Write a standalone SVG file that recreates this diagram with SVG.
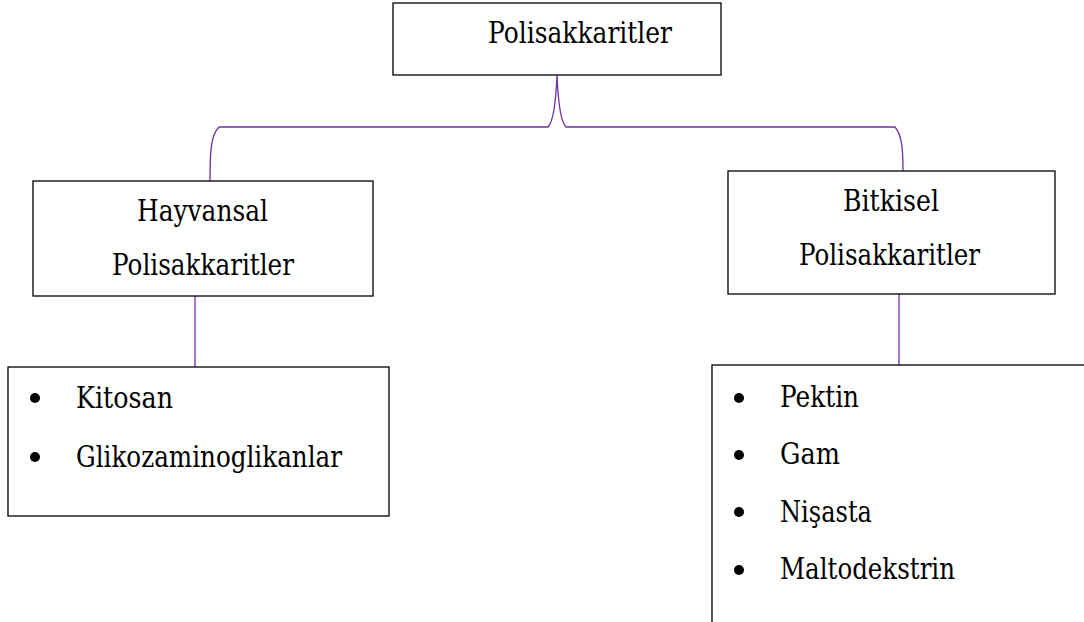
<svg xmlns="http://www.w3.org/2000/svg" width="1084" height="622" viewBox="0 0 1084 622">
<style>
.box{fill:#fff;stroke:#000;stroke-width:1.3}
.t{font-family:'DejaVu Serif',serif;font-size:29px;fill:#000}
.con{fill:none;stroke:#7030A0;stroke-width:1.3}
.b{fill:#000}
</style>
<rect width="1084" height="622" fill="#fff"/>
<g id="connectors">
<path class="con" d="M210,181 C210,150 211,135 219,127 L548,127 C553,122 556,100 557,75 C558,100 561,122 566,127 L895,127 C902,135 903,150 903,171"/>
<line class="con" x1="195" y1="291" x2="195" y2="367"/>
<line class="con" x1="899" y1="284" x2="899" y2="365"/>
</g>
<g id="root">
<rect class="box" x="393" y="3" width="328" height="72"/>
<text class="t" x="488" y="43" textLength="184" lengthAdjust="spacingAndGlyphs">Polisakkaritler</text>
</g>
<g id="hayvansal">
<rect class="box" x="33" y="181" width="340" height="115"/>
<text class="t" x="137" y="221" textLength="131" lengthAdjust="spacingAndGlyphs">Hayvansal</text>
<text class="t" x="112" y="275" textLength="182" lengthAdjust="spacingAndGlyphs">Polisakkaritler</text>
</g>
<g id="bitkisel">
<rect class="box" x="728" y="171" width="327" height="123"/>
<text class="t" x="843" y="211" textLength="96" lengthAdjust="spacingAndGlyphs">Bitkisel</text>
<text class="t" x="799" y="265" textLength="181" lengthAdjust="spacingAndGlyphs">Polisakkaritler</text>
</g>
<g id="hayvansal-list">
<rect class="box" x="8" y="367" width="381" height="149"/>
<circle class="b" cx="35" cy="398" r="5"/>
<text class="t" x="76" y="408" textLength="97" lengthAdjust="spacingAndGlyphs">Kitosan</text>
<circle class="b" cx="35" cy="457" r="5"/>
<text class="t" x="76" y="467" textLength="266" lengthAdjust="spacingAndGlyphs">Glikozaminoglikanlar</text>
</g>
<g id="bitkisel-list">
<rect class="box" x="712" y="365" width="420" height="300"/>
<circle class="b" cx="739" cy="398" r="5"/>
<text class="t" x="780" y="407" textLength="79" lengthAdjust="spacingAndGlyphs">Pektin</text>
<circle class="b" cx="739" cy="455" r="5"/>
<text class="t" x="780" y="464" textLength="60" lengthAdjust="spacingAndGlyphs">Gam</text>
<circle class="b" cx="739" cy="512" r="5"/>
<text class="t" x="780" y="522" textLength="92" lengthAdjust="spacingAndGlyphs">Nişasta</text>
<circle class="b" cx="739" cy="570" r="5"/>
<text class="t" x="780" y="579" textLength="175" lengthAdjust="spacingAndGlyphs">Maltodekstrin</text>
</g>
</svg>
